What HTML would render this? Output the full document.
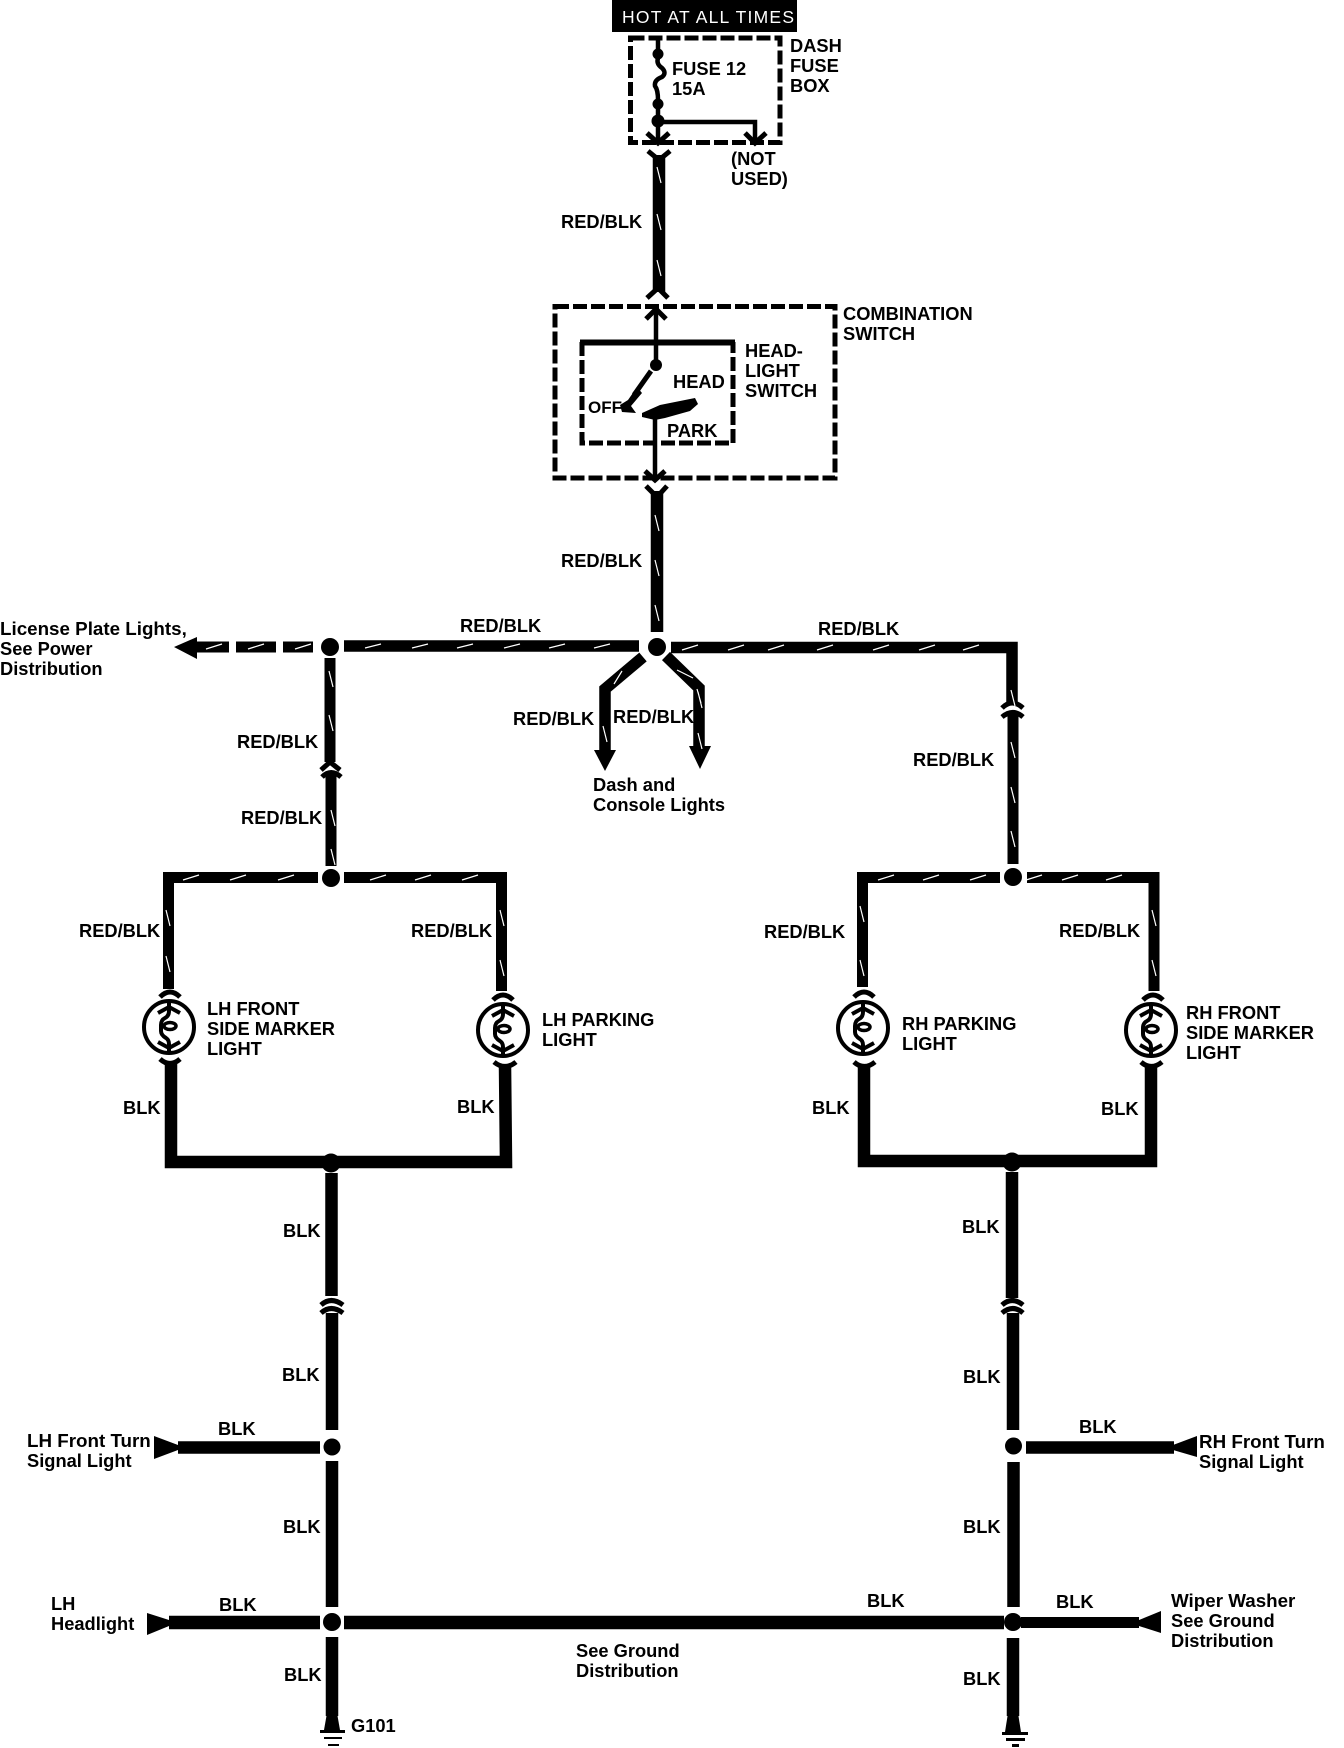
<!DOCTYPE html>
<html><head><meta charset="utf-8"><style>
html,body{margin:0;padding:0;background:#fff}
svg{display:block}
text{font-family:"Liberation Sans",sans-serif;font-weight:bold;font-size:18.3px;fill:#000}
text.m{font-size:18.8px}
.w{fill:none;stroke:#000;stroke-width:12.5}
.t{fill:none;stroke:#000;stroke-width:4.5}
.c{fill:none;stroke:#000;stroke-width:5;stroke-linejoin:miter}
.d{fill:none;stroke:#000;stroke-width:5;stroke-dasharray:14 4}
.k{stroke:#fff;stroke-width:1.2;fill:none}
</style></head><body>
<svg width="1344" height="1748" viewBox="0 0 1344 1748" xmlns="http://www.w3.org/2000/svg">
<defs>
<g id="bulb">
<ellipse cx="0" cy="0" rx="25" ry="26" fill="#fff" stroke="#000" stroke-width="4"/>
<path d="M0 -25V-16Q0 -11 -4 -9Q-8 -7 -8 -2V4Q-8 8 -3 11Q0 13 0 17V25" fill="none" stroke="#000" stroke-width="4"/>
<ellipse cx="1" cy="-1" rx="6" ry="3.5" fill="none" stroke="#000" stroke-width="3.500"/>
<path d="M-11 -14L0 -20L11 -14M-11 15L0 21L11 15" fill="none" stroke="#000" stroke-width="4"/>
</g>
</defs>

<rect x="612" y="0" width="185" height="32" fill="#000"/>
<text x="622" y="23" style="fill:#fff;font-weight:normal;font-size:17.5px" textLength="172" lengthAdjust="spacing">HOT AT ALL TIMES</text>

<!-- fuse box -->
<rect class="d" x="630.5" y="38" width="149.5" height="104.5"/>
<path d="M658 38V50" class="t"/>
<circle cx="658" cy="54" r="5.500"/>
<path d="M658 58Q656 64 662 68Q667 73 662 77Q654 80 655 86Q658 90 658 100" class="t"/>
<circle cx="658" cy="104" r="5.500"/>
<path d="M658 108V140" class="t"/>
<circle cx="658" cy="121" r="6.500"/>
<path d="M658 122H755V142" class="t"/>
<path d="M647 133L658 143L669 133M745 133L755 143L766 133" class="c"/>
<text x="672" y="75">FUSE 12</text><text x="672" y="95">15A</text>
<text x="790" y="52">DASH</text><text x="790" y="72">FUSE</text><text x="790" y="92">BOX</text>
<text x="731" y="165">(NOT</text><text x="731" y="185">USED)</text>

<!-- main wire 1 -->
<path class="w" d="M659 155V292"/>
<path d="M648 151L659 160L670 151" class="c"/>
<path d="M647 298L658 288L668 298" class="c"/>
<text x="561" y="228">RED/BLK</text>

<!-- combination switch -->
<rect class="d" x="555" y="306.5" width="280" height="171.5"/>
<path d="M580 342.5H735" stroke="#000" stroke-width="6" fill="none"/>
<path d="M582 342V443H733V342" class="d"/>
<path d="M656 308V362" class="t"/>
<path d="M646 319L656 309L666 319" class="c"/>
<circle cx="656" cy="365" r="6"/>
<path d="M651 371L634 395" stroke="#000" stroke-width="5" fill="none"/>
<path d="M637 387L628 400L620 405L622 412L636 413L631 406L642 393Z"/>
<path d="M642 413L660 405L695 398L698 404L690 411L665 418L655 420L642 417Z"/>
<path d="M655 416V476" class="t"/>
<path d="M645 471L655 480L665 471" class="c"/>
<path d="M646 486L657 497L667 486" class="c"/>
<text x="843" y="320">COMBINATION</text><text x="843" y="340">SWITCH</text>
<text x="745" y="357">HEAD-</text><text x="745" y="377">LIGHT</text><text x="745" y="397">SWITCH</text>
<text x="673" y="388">HEAD</text>
<text x="588" y="413" style="font-size:17px">OFF</text>
<text x="667" y="437">PARK</text>

<!-- main wire 2 -->
<path class="w" d="M657 491V632"/>
<text x="561" y="567">RED/BLK</text>
<circle cx="657" cy="647" r="9"/>
<path class="w" style="stroke-width:11.5" d="M344 646H639M671 647.5H1012V703"/>
<path class="w" style="stroke-width:11" d="M197 647H229M236 647H276M283 647H313"/>
<path d="M174 647L197 637V659Z"/>
<circle cx="330" cy="647" r="9"/>
<text x="460" y="632">RED/BLK</text>
<text x="818" y="635">RED/BLK</text>
<text class="m" x="0" y="635">License Plate Lights,</text><text x="0" y="655">See Power</text><text x="0" y="675">Distribution</text>

<!-- center branches -->
<path class="w" style="stroke-width:11.5" d="M643 657L605 689V750"/>
<path class="w" style="stroke-width:11.5" d="M666 656L699 688V746"/>
<path d="M594 750H616L605 771Z"/>
<path d="M689 746H711L700 769Z"/>
<text x="513" y="725">RED/BLK</text>
<text x="613" y="723">RED/BLK</text>
<text x="593" y="791">Dash and</text><text x="593" y="811">Console Lights</text>

<!-- left upper feed -->
<path class="w" style="stroke-width:11" d="M330 658V762"/>
<path d="M321 770L330 762L340 770" class="c"/>
<path d="M322 777Q331 768 341 777" class="c"/>
<path class="w" style="stroke-width:11" d="M331 775V866"/>
<text x="237" y="748">RED/BLK</text>
<text x="241" y="824">RED/BLK</text>
<circle cx="331" cy="878" r="9"/>
<path class="w" style="stroke-width:11" d="M318 877.5H168.500V989M344 877.500H501.500V991"/>
<text x="79" y="937">RED/BLK</text>
<text x="411" y="937">RED/BLK</text>

<!-- right upper feed -->
<path d="M1002 708Q1012 698 1023 708" class="c"/>
<path d="M1002 717Q1013 708 1023 717" class="c"/>
<path class="w" style="stroke-width:11" d="M1013 714V864"/>
<text x="913" y="766">RED/BLK</text>
<circle cx="1013" cy="877" r="9"/>
<path class="w" style="stroke-width:11" d="M1000 877.500H862.500V987M1027 877.500H1154V991"/>
<text x="764" y="938">RED/BLK</text>
<text x="1059" y="937">RED/BLK</text>

<!-- chevrons above bulbs -->
<path d="M160 997Q170 987 180 997" class="c"/>
<path d="M493 1000Q503 990 513 1000" class="c"/>
<path d="M854 997Q864 987 874 997" class="c"/>
<path d="M1143 1000Q1153 990 1163 1000" class="c"/>

<use href="#bulb" x="169" y="1027"/>
<use href="#bulb" x="503" y="1030"/>
<use href="#bulb" x="863" y="1028"/>
<use href="#bulb" x="1151" y="1030"/>

<text x="207" y="1015">LH FRONT</text><text x="207" y="1035">SIDE MARKER</text><text x="207" y="1055">LIGHT</text>
<text x="542" y="1026">LH PARKING</text><text x="542" y="1046">LIGHT</text>
<text x="902" y="1030">RH PARKING</text><text x="902" y="1050">LIGHT</text>
<text x="1186" y="1019">RH FRONT</text><text x="1186" y="1039">SIDE MARKER</text><text x="1186" y="1059">LIGHT</text>

<!-- lower loops -->
<path d="M160 1059Q170 1068 180 1059" class="c"/>
<path d="M494 1062Q505 1071 516 1062" class="c"/>
<path d="M854 1062Q864 1071 875 1062" class="c"/>
<path d="M1141 1062Q1151 1071 1162 1062" class="c"/>
<path class="w" d="M171 1064V1162H506L505 1066"/>
<path class="w" d="M864 1066V1161H1151V1066"/>
<text x="123" y="1114">BLK</text>
<text x="457" y="1113">BLK</text>
<text x="812" y="1114">BLK</text>
<text x="1101" y="1115">BLK</text>
<circle cx="331" cy="1163" r="9.500"/>
<circle cx="1012" cy="1162" r="9.500"/>

<!-- left ground run -->
<path class="w" d="M331.500 1173V1296"/>
<path d="M321 1305Q331 1296 343 1305M321 1313Q331 1304 343 1313" class="c" />
<path class="w" d="M332 1313V1430"/>
<path class="w" d="M332 1461V1607"/>
<text x="283" y="1237">BLK</text>
<text x="282" y="1381">BLK</text>
<text x="283" y="1533">BLK</text>
<circle cx="332" cy="1447" r="8.500"/>
<path class="w" d="M178 1447.500H320"/>
<path d="M154 1436L178 1445V1450L154 1459Z"/>
<text x="218" y="1435">BLK</text>
<text class="m" x="27" y="1447">LH Front Turn</text><text x="27" y="1467">Signal Light</text>
<circle cx="332" cy="1622" r="9"/>
<path class="w" style="stroke-width:13.500" d="M169 1622.500H320M344 1622.500H1004"/>
<path d="M147 1613L169 1620V1626L147 1635Z"/>
<text x="219" y="1611">BLK</text>
<text x="51" y="1610">LH</text><text x="51" y="1630">Headlight</text>
<text x="576" y="1657">See Ground</text><text x="576" y="1677">Distribution</text>
<text x="867" y="1607">BLK</text>
<path class="w" d="M332 1637V1716"/>
<text x="284" y="1681">BLK</text>
<path d="M327 1713H337L340 1730H324Z"/>
<rect x="320" y="1730" width="25" height="3"/>
<rect x="324" y="1737" width="18" height="2"/>
<rect x="328" y="1744" width="11" height="2"/>
<text x="351" y="1732">G101</text>

<!-- right ground run -->
<path class="w" d="M1012 1172V1298"/>
<path d="M1002 1305Q1012 1296 1023 1305M1002 1313Q1013 1304 1023 1313" class="c"/>
<path class="w" d="M1013 1313V1430"/>
<path class="w" d="M1013.500 1462V1607"/>
<text x="962" y="1233">BLK</text>
<text x="963" y="1383">BLK</text>
<text x="963" y="1533">BLK</text>
<circle cx="1013.500" cy="1446" r="8.500"/>
<path class="w" d="M1026 1447.500H1174"/>
<path d="M1197 1436L1173 1445V1450L1197 1457Z"/>
<text x="1079" y="1433">BLK</text>
<text class="m" x="1199" y="1448">RH Front Turn</text><text x="1199" y="1468">Signal Light</text>
<circle cx="1013" cy="1622" r="9"/>
<path class="w" style="stroke-width:11" d="M1021 1622.500H1139"/>
<path d="M1161 1611L1139 1620V1626L1161 1633Z"/>
<text x="1056" y="1608">BLK</text>
<text class="m" x="1171" y="1607">Wiper Washer</text><text x="1171" y="1627">See Ground</text><text x="1171" y="1647">Distribution</text>
<path class="w" d="M1013 1638V1716"/>
<text x="963" y="1685">BLK</text>
<path d="M1008 1713H1018L1021 1732H1005Z"/>
<rect x="1002" y="1732" width="26" height="3"/>
<rect x="1006" y="1738" width="19" height="3"/>
<rect x="1012" y="1744" width="7" height="3"/>

<!-- white tracer ticks -->
<path class="k" d="M206 649L222 644M248 649L264 644M295 649L311 644M365 648L381 644M412 648L428 644M457 648L473 644M504 648L520 644M549 648L565 644M594 648L610 644M682 650L698 645M728 650L744 645M768 650L784 645M817 650L833 645M873 650L889 645M919 650L935 645M963 650L979 645"/>
<path class="k" d="M183 880L199 875M230 880L246 875M278 880L294 875M370 880L386 875M415 880L431 875M462 880L478 875M878 880L894 875M923 880L939 875M970 880L986 875M1026 880L1042 875M1062 880L1078 875M1106 880L1122 875"/>
<path class="k" d="M657 167L661 183M657 214L661 230M657 260L661 276M655 515L659 531M655 560L659 576M655 605L659 621M329 671L333 687M329 715L333 731M331 810L335 826M331 849L335 865M166 910L170 926M166 956L170 972M500 910L504 926M500 960L504 976M1011 690L1015 706M1011 742L1015 758M1011 787L1015 803M1011 831L1015 847M860 906L864 922M860 960L864 976M1152 910L1156 926M1152 960L1156 976M603 726L607 742M698 692L702 708M698 733L702 749M614 684L622 671M677 670L693 678M697 689L701 703"/>
</svg>
</body></html>
